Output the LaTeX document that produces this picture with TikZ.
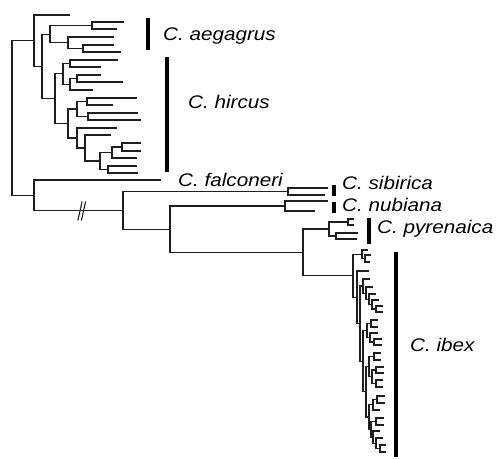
\documentclass[tikz,border=0pt]{standalone}
\usepackage{fontspec}
\setmainfont{Liberation Sans}
\tikzset{
  br/.style={line width=1.1pt, draw=black!88, line cap=rect},
  bar/.style={line width=3.8pt, draw=black},
  lab/.style={anchor=base west, inner sep=0pt, font=\fontsize{18.3}{20}\selectfont\itshape}
}
\newcommand\cl[5]{\draw[br] (#4,#2) -- (#1,#2) -- (#1,#3) -- (#5,#3);}
\newcommand\lbl[1]{\scalebox{1.13}[1]{#1}}
\begin{document}
\begin{tikzpicture}[x=1pt,y=-1pt]
\useasboundingbox (0,0) rectangle (497,459);
% goats
\cl{12}{40.7}{195.2}{34}{34}
\cl{34}{15}{66.4}{69}{42}
\cl{42}{34.1}{98.7}{50}{55}
\cl{50}{25.5}{42.75}{92}{68}
\cl{92}{22}{29}{123}{116}
\cl{68}{37}{48.5}{113}{83}
\cl{83}{45}{52}{113}{120}
\cl{55}{73.9}{123.5}{63}{68}
\cl{63}{63.5}{84.25}{70}{70}
\cl{70}{60}{67}{117}{100}
\cl{70}{78.5}{90}{77}{92}
\cl{77}{75}{82}{100}{122}
\cl{68}{109}{138}{77}{77}
\cl{77}{101.5}{116.5}{87}{88}
\cl{87}{98}{105}{136}{112}
\cl{88}{113}{120}{137}{140}
\cl{77}{128}{148}{116}{85}
\cl{85}{135}{161}{110}{100}
\cl{100}{152.5}{169.5}{112}{108}
\cl{112}{147}{158}{122}{136}
\cl{122}{143}{151}{140}{140}
\cl{108}{166}{173}{136}{137}
% lower part
\cl{34}{180}{210.4}{160}{123}
\cl{123}{191.5}{229.25}{288}{170}
\cl{288}{188}{195}{327}{324}
\cl{170}{206}{252.5}{285}{303}
\cl{285}{201}{211}{327}{314}
\cl{303}{229}{275.8}{329}{353}
\cl{329}{222}{236}{348}{336}
\cl{348}{219}{225}{353}{353}
\cl{336}{233}{239}{357}{356}
% ibex
\cl{353}{254.25}{297.3}{362}{357}
\cl{362}{250}{258.5}{367}{365}
\cl{365}{255}{262}{370}{369}
\cl{357}{271}{323.6}{368}{360}
\cl{360}{286}{361.2}{363}{363}
\cl{363}{279}{293.1}{369}{366}
\cl{366}{287}{299.25}{372}{369}
\cl{369}{294}{304.5}{375}{372}
\cl{372}{300}{309}{378}{376}
\cl{376}{306}{312}{382}{382}
\cl{363}{330.5}{391.8}{367}{366}
\cl{367}{323.5}{337.5}{371}{370}
\cl{371}{320}{327}{377}{377}
\cl{370}{333}{342}{377}{374}
\cl{374}{339}{345}{381}{381}
\cl{366}{366.6}{417}{369}{369}
\cl{369}{356.5}{376.75}{374}{372}
\cl{374}{353}{360}{380}{380}
\cl{372}{370}{383.5}{376}{376}
\cl{376}{367}{373}{383}{383}
\cl{376}{380}{387}{382}{382}
\cl{369}{404.75}{429.3}{373}{371}
\cl{373}{399.5}{410}{377}{379}
\cl{377}{396}{403}{384}{384}
\cl{371}{421.5}{437.1}{376}{373}
\cl{376}{418}{425}{383}{383}
\cl{373}{431}{443.25}{379}{376}
\cl{376}{438}{448.5}{382}{380}
\cl{380}{445}{452}{385}{385}
% break mark
\draw[br] (78,220) -- (82,202);
\draw[br] (81.5,220) -- (85.5,202);
% bars
\draw[bar] (148,18) -- (148,50);
\draw[bar] (167,57) -- (167,172);
\draw[bar] (334,185) -- (334,196);
\draw[bar] (334,202) -- (334,213);
\draw[bar] (369,218) -- (369,244);
\draw[bar] (396,252) -- (396,457);
% labels
\node[lab] (aeg) at (163,40) {\lbl{C. aegagrus}};
\node[lab] (hir) at (188,108) {\lbl{C. hircus}};
\node[lab] (fal) at (178,186) {\lbl{C. falconeri}};
\node[lab] (sib) at (342,189) {\lbl{C. sibirica}};
\node[lab] (nub) at (342,211) {\lbl{C. nubiana}};
\node[lab] (pyr) at (377,233) {\lbl{C. pyrenaica}};
\node[lab] (ibx) at (410,351) {\lbl{C. ibex}};
\end{tikzpicture}
\end{document}
